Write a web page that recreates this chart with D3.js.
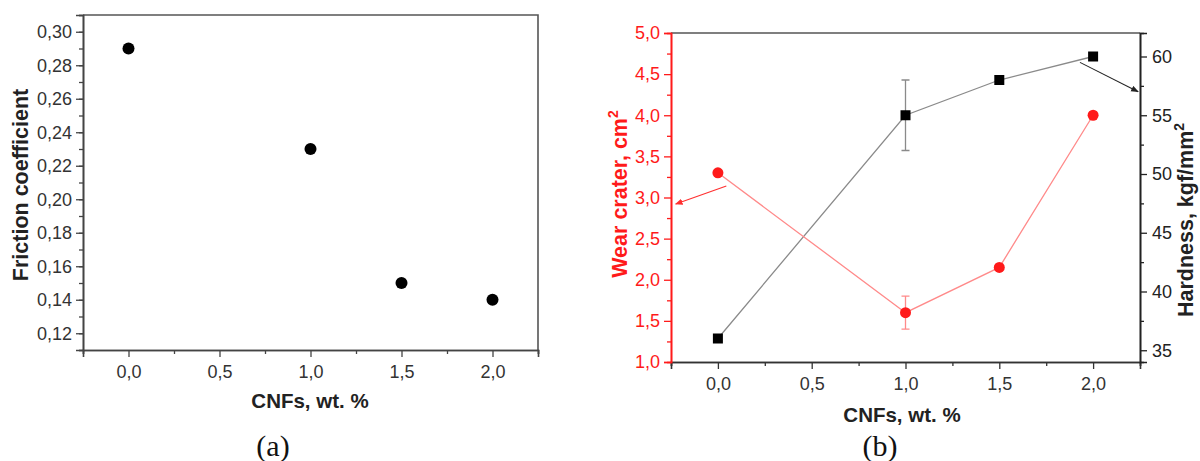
<!DOCTYPE html>
<html><head><meta charset="utf-8">
<script src="https://cdn.jsdelivr.net/npm/d3@7/dist/d3.min.js"></script>
<style>
html,body{margin:0;padding:0;background:#fff;}
svg text{font-family:"Liberation Sans",Arial,sans-serif;}
</style></head><body>
<svg id="chart" width="1200" height="461"></svg>
<script>
// ---------- data ----------
const cnf = [0.0, 1.0, 1.5, 2.0];
const xTicks = [0.0, 0.5, 1.0, 1.5, 2.0];
const friction = [0.29, 0.23, 0.15, 0.14];
const frictionTicks = [0.12, 0.14, 0.16, 0.18, 0.20, 0.22, 0.24, 0.26, 0.28, 0.30];
const wear = [3.3, 1.6, 2.15, 4.0];
const wearErr = [0, 0.2, 0, 0];
const wearTicks = [1.0, 1.5, 2.0, 2.5, 3.0, 3.5, 4.0, 4.5, 5.0];
const hardness = [36, 55, 58, 60];
const hardnessErr = [0, 3, 0, 0];
const hardnessTicks = [35, 40, 45, 50, 55, 60];
// annotation arrows (data units): [x1,y1,x2,y2]
const wearArrow = [0.045, 3.14, -0.225, 2.92];
const hardArrow = [1.93, 59.5, 2.24, 57.0];

const svg = d3.select("#chart");
const fmt = (d, n) => d.toFixed(n).replace(".", ",");
const defs = svg.append("defs");
function marker(id, color){
  defs.append("marker").attr("id", id).attr("viewBox","0 0 10 10").attr("refX",9).attr("refY",5)
    .attr("markerWidth",7).attr("markerHeight",7).attr("orient","auto")
    .append("path").attr("d","M0,1 L10,5 L0,9 Z").attr("fill",color);
}
marker("arrR", "#ff3030");
marker("arrK", "#222");

function styleAxis(g, color, textColor, fs){
  g.select(".domain").attr("stroke", color).attr("stroke-width", 1.6);
  g.selectAll(".tick line").attr("stroke", color).attr("stroke-width", 1.3);
  g.selectAll(".tick text").attr("fill", textColor).attr("font-size", fs);
}

// ---------- chart (a) ----------
{
  const L = 83, T = 15, R = 538, B = 350;
  const x = d3.scaleLinear().domain([-0.25, 2.25]).range([L, R]);
  const y = d3.scaleLinear().domain([0.11, 0.31]).range([B, T]);
  const g = svg.append("g");
  g.append("path").attr("d", `M${L},${T}H${R}V${B}`).attr("fill","none").attr("stroke","#555").attr("stroke-width",1.6);
  const xm = g.append("g").attr("transform",`translate(0,${B})`)
    .call(d3.axisBottom(x).tickValues([-0.25,0.25,0.75,1.25,1.75,2.25]).tickSize(4).tickFormat(""));
  styleAxis(xm, "#444", "#333", 18);
  const yMinorVals = d3.range(0.11, 0.3105, 0.01).map(v => +v.toFixed(2));
  const ym = g.append("g").attr("transform",`translate(${L},0)`)
    .call(d3.axisLeft(y).tickValues(yMinorVals).tickSize(4).tickFormat(""));
  styleAxis(ym, "#444", "#333", 18);
  const xa = g.append("g").attr("transform",`translate(0,${B})`)
    .call(d3.axisBottom(x).tickValues(xTicks).tickSize(7).tickPadding(8).tickFormat(d => fmt(d,1)));
  styleAxis(xa, "#444", "#333", 18);
  const ya = g.append("g").attr("transform",`translate(${L},0)`)
    .call(d3.axisLeft(y).tickValues(frictionTicks).tickSize(7).tickPadding(4).tickFormat(d => fmt(d,2)));
  styleAxis(ya, "#444", "#333", 18);
  g.selectAll("circle.pt").data(cnf).join("circle").attr("class","pt")
    .attr("cx", d => x(d)).attr("cy", (d,i) => y(friction[i])).attr("r", 6).attr("fill","#000");
  g.append("text").attr("transform",`translate(28,185) rotate(-90)`).attr("text-anchor","middle")
    .attr("font-size",21.5).attr("font-weight","bold").attr("fill","#222").text("Friction coefficient");
  g.append("text").attr("x",310).attr("y",408).attr("text-anchor","middle")
    .attr("font-size",20.5).attr("font-weight","bold").attr("fill","#222").text("CNFs, wt. %");
  g.append("text").attr("x",273).attr("y",456).attr("text-anchor","middle")
    .style("font-family","'Liberation Serif','Times New Roman',serif").attr("font-size",30).attr("fill","#111").text("(a)");
}

// ---------- chart (b) ----------
{
  const L = 671, T = 33, R = 1140, B = 362;
  const x = d3.scaleLinear().domain([-0.25, 2.25]).range([L, R]);
  const yW = d3.scaleLinear().domain([1, 5]).range([B, T]);
  const yH = d3.scaleLinear().domain([34, 62]).range([B, T]);
  const red = "#ff1a1a", lred = "#ff8a8a";
  const g = svg.append("g");
  g.append("path").attr("d", `M${L},${T}H${R}`).attr("fill","none").attr("stroke","#555").attr("stroke-width",1.6);
  const xm = g.append("g").attr("transform",`translate(0,${B})`)
    .call(d3.axisBottom(x).tickValues([-0.25,0.25,0.75,1.25,1.75,2.25]).tickSize(4).tickFormat(""));
  styleAxis(xm, "#333", "#333", 18);
  const xa = g.append("g").attr("transform",`translate(0,${B})`)
    .call(d3.axisBottom(x).tickValues(xTicks).tickSize(7).tickPadding(8).tickFormat(d => fmt(d,1)));
  styleAxis(xa, "#333", "#333", 18);
  const wm = g.append("g").attr("transform",`translate(${L},0)`)
    .call(d3.axisLeft(yW).tickValues(d3.range(1.25, 5, 0.5)).tickSize(4).tickFormat(""));
  styleAxis(wm, red, red, 18);
  const wa = g.append("g").attr("transform",`translate(${L},0)`)
    .call(d3.axisLeft(yW).tickValues(wearTicks).tickSize(7).tickPadding(4).tickFormat(d => fmt(d,1)));
  styleAxis(wa, red, red, 18);
  const hm = g.append("g").attr("transform",`translate(${R},0)`)
    .call(d3.axisRight(yH).tickValues([37.5,42.5,47.5,52.5,57.5]).tickSize(4).tickFormat(""));
  styleAxis(hm, "#222", "#222", 18);
  const ha = g.append("g").attr("transform",`translate(${R},0)`)
    .call(d3.axisRight(yH).tickValues(hardnessTicks).tickSize(7).tickPadding(5).tickFormat(d => d));
  styleAxis(ha, "#222", "#222", 18);

  const lineH = d3.line().x(d => x(d[0])).y(d => yH(d[1]));
  g.append("path").datum(cnf.map((c,i)=>[c,hardness[i]])).attr("d", lineH)
    .attr("fill","none").attr("stroke","#8a8a8a").attr("stroke-width",1.3);
  const lineW = d3.line().x(d => x(d[0])).y(d => yW(d[1]));
  g.append("path").datum(cnf.map((c,i)=>[c,wear[i]])).attr("d", lineW)
    .attr("fill","none").attr("stroke",lred).attr("stroke-width",1.3);

  function errBars(vals, errs, sc, color){
    cnf.forEach((c,i) => {
      if (!errs[i]) return;
      const cx = x(c), y1 = sc(vals[i]-errs[i]), y2 = sc(vals[i]+errs[i]);
      g.append("path").attr("d",`M${cx},${y1}V${y2}M${cx-4},${y1}H${cx+4}M${cx-4},${y2}H${cx+4}`)
        .attr("stroke",color).attr("stroke-width",1.3).attr("fill","none");
    });
  }
  errBars(hardness, hardnessErr, yH, "#8a8a8a");
  errBars(wear, wearErr, yW, lred);

  g.selectAll("rect.sq").data(cnf).join("rect").attr("class","sq")
    .attr("x", d => x(d)-5).attr("y", (d,i) => yH(hardness[i])-5).attr("width",10).attr("height",10).attr("fill","#000");
  g.selectAll("circle.wc").data(cnf).join("circle").attr("class","wc")
    .attr("cx", d => x(d)).attr("cy", (d,i) => yW(wear[i])).attr("r",5.5).attr("fill",red);

  g.append("line").attr("x1",x(wearArrow[0])).attr("y1",yW(wearArrow[1])).attr("x2",x(wearArrow[2])).attr("y2",yW(wearArrow[3]))
    .attr("stroke","#ff3030").attr("stroke-width",1.1).attr("marker-end","url(#arrR)");
  g.append("line").attr("x1",x(hardArrow[0])).attr("y1",yH(hardArrow[1])).attr("x2",x(hardArrow[2])).attr("y2",yH(hardArrow[3]))
    .attr("stroke","#222").attr("stroke-width",1.1).attr("marker-end","url(#arrK)");

  const wl = g.append("text").attr("transform",`translate(627,194) rotate(-90)`).attr("text-anchor","middle")
    .attr("font-size",21.5).attr("font-weight","bold").attr("fill",red);
  wl.append("tspan").text("Wear crater, cm");
  wl.append("tspan").attr("dy",-9).attr("font-size",14).text("2");
  const hl = g.append("text").attr("transform",`translate(1193,220) rotate(-90)`).attr("text-anchor","middle")
    .attr("font-size",21.5).attr("font-weight","bold").attr("fill","#222");
  hl.append("tspan").text("Hardness, kgf/mm");
  hl.append("tspan").attr("dy",-9).attr("font-size",14).text("2");
  g.append("text").attr("x",902).attr("y",422).attr("text-anchor","middle")
    .attr("font-size",20.5).attr("font-weight","bold").attr("fill","#222").text("CNFs, wt. %");
  g.append("text").attr("x",880).attr("y",456).attr("text-anchor","middle")
    .style("font-family","'Liberation Serif','Times New Roman',serif").attr("font-size",30).attr("fill","#111").text("(b)");
}
</script>
</body></html>
